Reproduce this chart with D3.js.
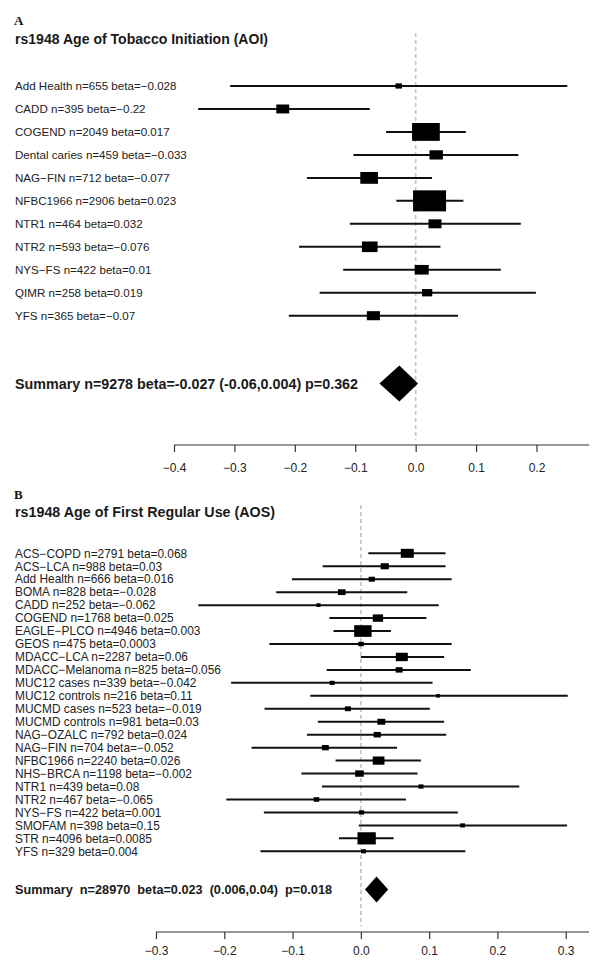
<!DOCTYPE html>
<html><head><meta charset="utf-8">
<script src="https://cdn.jsdelivr.net/npm/d3@7"></script>
<style>
body{margin:0;background:#fff}
svg{display:block}
text{font-family:"Liberation Sans",Arial,sans-serif}
</style>
</head><body>
<svg id="c" width="604" height="970"></svg>
<script>
// ---------- Panel A data: rs1948 Age of Tobacco Initiation (AOI) ----------
const studiesA = ["Add Health","CADD","COGEND","Dental caries","NAG\u2212FIN","NFBC1966","NTR1","NTR2","NYS\u2212FS","QIMR","YFS"];
const nA = [655,395,2049,459,712,2906,464,593,422,258,365];
const betaTextA = ["\u22120.028","\u22120.22","0.017","\u22120.033","\u22120.077","0.023","0.032","\u22120.076","0.01","0.019","\u22120.07"];
const estA = [-0.028,-0.22,0.017,0.034,-0.077,0.023,0.032,-0.076,0.01,0.019,-0.07];
const loA  = [-0.307,-0.360,-0.049,-0.103,-0.180,-0.032,-0.109,-0.193,-0.120,-0.159,-0.210];
const hiA  = [0.251,-0.076,0.083,0.170,0.027,0.079,0.174,0.041,0.141,0.199,0.070];
const summaryA = {est:-0.027, lo:-0.06, hi:0.004, label:"Summary n=9278 beta=-0.027 (-0.06,0.004) p=0.362"};
const ticksA = [-0.4,-0.3,-0.2,-0.1,0.0,0.1,0.2];

// ---------- Panel B data: rs1948 Age of First Regular Use (AOS) ----------
const studiesB = ["ACS\u2212COPD","ACS\u2212LCA","Add Health","BOMA","CADD","COGEND","EAGLE\u2212PLCO","GEOS","MDACC\u2212LCA","MDACC\u2212Melanoma","MUC12 cases","MUC12 controls","MUCMD cases","MUCMD controls","NAG\u2212OZALC","NAG\u2212FIN","NFBC1966","NHS\u2212BRCA","NTR1","NTR2","NYS\u2212FS","SMOFAM","STR","YFS"];
const nB = [2791,988,666,828,252,1768,4946,475,2287,825,339,216,523,981,792,704,2240,1198,439,467,422,398,4096,329];
const betaTextB = ["0.068","0.03","0.016","\u22120.028","\u22120.062","0.025","0.003","0.0003","0.06","0.056","\u22120.042","0.11","\u22120.019","0.03","0.024","\u22120.052","0.026","\u22120.002","0.08","\u22120.065","0.001","0.15","0.0085","0.004"];
const estB = [0.068,0.035,0.016,-0.028,-0.062,0.025,0.003,0.0003,0.06,0.056,-0.042,0.113,-0.019,0.03,0.024,-0.052,0.026,-0.002,0.088,-0.065,0.001,0.149,0.0085,0.004];
const loB  = [0.011,-0.056,-0.101,-0.124,-0.238,-0.046,-0.040,-0.134,0.000,-0.050,-0.190,-0.074,-0.141,-0.063,-0.079,-0.160,-0.037,-0.087,-0.057,-0.197,-0.142,-0.003,-0.032,-0.147];
const hiB  = [0.124,0.124,0.133,0.068,0.114,0.096,0.044,0.133,0.122,0.161,0.105,0.303,0.101,0.122,0.125,0.053,0.088,0.083,0.232,0.066,0.142,0.302,0.048,0.153];
const summaryB = {est:0.023, lo:0.006, hi:0.04, label:"Summary  n=28970  beta=0.023  (0.006,0.04)  p=0.018"};
const ticksB = [-0.3,-0.2,-0.1,0.0,0.1,0.2,0.3];

const svg = d3.select("#c");

function panel(cfg){
  const g = svg.append("g");
  const rows = cfg.studies.map((s,i)=>({
    label: `${s} n=${cfg.n[i]} beta=${cfg.betaText[i]}`,
    est: cfg.est[i], lo: cfg.lo[i], hi: cfg.hi[i]
  }));
  const x = d3.scaleLinear().domain(cfg.domain).range(cfg.range);
  const y = d3.scaleLinear().domain([0, rows.length-1]).range([cfg.rowTop, cfg.rowBottom]);
  const minCI = d3.min(rows, d => d.hi - d.lo);

  // panel letter + title
  g.append("text").attr("x",14).attr("y",cfg.letterY)
    .style("font-family","'Liberation Serif','Times New Roman',serif")
    .style("font-weight","bold").style("font-size","13px").attr("fill","#111").text(cfg.letter);
  g.append("text").attr("x",15).attr("y",cfg.titleY)
    .style("font-weight","bold").style("font-size","14.5px").attr("fill","#1a1a1a")
    .attr("textLength",cfg.titleLen).attr("lengthAdjust","spacingAndGlyphs").text(cfg.title);

  // reference dashed line at 0
  g.append("line").attr("x1",x(0)).attr("x2",x(0)).attr("y1",cfg.dashTop).attr("y2",cfg.dashBottom)
    .attr("stroke","#c4c4c4").attr("stroke-width",1.6).attr("stroke-dasharray","4,3");

  // labels
  g.selectAll("text.lab").data(rows).join("text").attr("class","lab")
    .attr("x",15).attr("y",(d,i)=>y(i)).attr("dy","0.36em")
    .style("font-size",cfg.labelSize).attr("fill","#222").text(d=>d.label);

  // whiskers
  g.selectAll("line.ci").data(rows).join("line").attr("class","ci")
    .attr("x1",d=>x(d.lo)).attr("x2",d=>x(d.hi))
    .attr("y1",(d,i)=>y(i)).attr("y2",(d,i)=>y(i))
    .attr("stroke","#111").attr("stroke-width",2);

  // boxes (size inversely proportional to CI width)
  g.selectAll("rect.box").data(rows).join("rect").attr("class","box")
    .each(function(d,i){
      const w = cfg.maxBox * minCI / (d.hi - d.lo);
      const h = 0.6*w + 1.2;
      d3.select(this).attr("x",x(d.est)-w/2).attr("y",y(i)-h/2).attr("width",w).attr("height",h);
    })
    .attr("fill","#000");

  // summary
  const s = cfg.summary;
  g.append("text").attr("x",15).attr("y",cfg.summaryY).attr("dy","0.36em")
    .attr("xml:space","preserve").style("white-space","pre")
    .style("font-weight","bold").style("font-size",cfg.summarySize).attr("fill","#1a1a1a")
    .attr("textLength",cfg.summaryLen).attr("lengthAdjust","spacingAndGlyphs").text(s.label);
  const dh = cfg.diamondH;
  g.append("path")
    .attr("d",`M${x(s.lo)},${cfg.summaryY}L${x(s.est)},${cfg.summaryY-dh}L${x(s.hi)},${cfg.summaryY}L${x(s.est)},${cfg.summaryY+dh}Z`)
    .attr("fill","#000");

  // axis
  const ax = g.append("g").attr("transform",`translate(0,${cfg.axisY})`)
    .call(d3.axisBottom(x).tickValues(cfg.ticks).tickSize(7).tickPadding(cfg.tickPad).tickFormat(d3.format(".1f")));
  ax.select(".domain").remove();
  ax.append("line").attr("x1",x(cfg.ticks[0])).attr("x2",cfg.axisEnd).attr("y1",0).attr("y2",0)
    .attr("stroke","#333").attr("stroke-width",1.2);
  ax.selectAll(".tick line").attr("stroke","#333").attr("stroke-width",1.2);
  ax.selectAll(".tick text").style("font-size","12px").style("font-family","'Liberation Sans',Arial,sans-serif").attr("fill","#222");
}

panel({
  letter:"A", letterY:25, title:"rs1948 Age of Tobacco Initiation (AOI)", titleY:44, titleLen:253,
  studies:studiesA, n:nA, betaText:betaTextA, est:estA, lo:loA, hi:hiA, summary:summaryA, ticks:ticksA,
  domain:[-0.4,0.2], range:[174,536.5], rowTop:86, rowBottom:315.7, labelSize:"11.6px",
  maxBox:33, summaryY:383.5, summarySize:"14px", summaryLen:343, diamondH:18,
  axisY:445, axisEnd:589, tickPad:11, dashTop:33, dashBottom:440
});
panel({
  letter:"B", letterY:499, title:"rs1948 Age of First Regular Use (AOS)", titleY:517, titleLen:260,
  studies:studiesB, n:nB, betaText:betaTextB, est:estB, lo:loB, hi:hiB, summary:summaryB, ticks:ticksB,
  domain:[-0.3,0.3], range:[156,565.7], rowTop:553.3, rowBottom:851.3, labelSize:"11.9px",
  maxBox:18.3, summaryY:889.5, summarySize:"12px", summaryLen:317, diamondH:13,
  axisY:932, axisEnd:589, tickPad:7, dashTop:505, dashBottom:926
});
</script>
</body></html>
